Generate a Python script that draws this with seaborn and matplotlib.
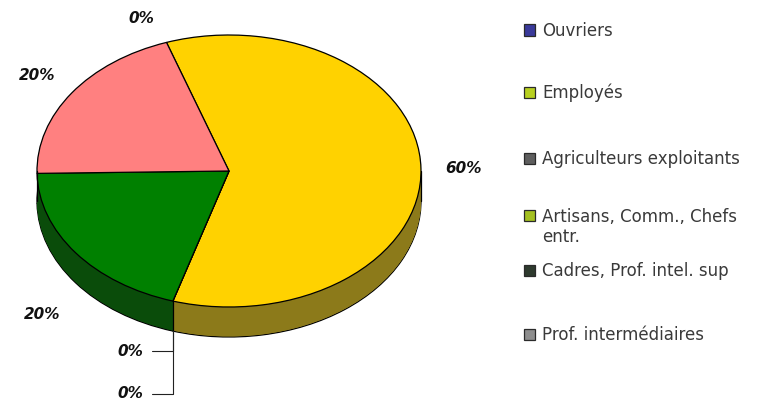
import numpy as np
import matplotlib
matplotlib.use("Agg")
import matplotlib.pyplot as plt
from matplotlib.patches import Rectangle
import seaborn as sns

# Répartition par catégorie socio-professionnelle (%)
categories = ["Ouvriers", "Employés", "Agriculteurs exploitants",
              "Artisans, Comm., Chefs\nentr.", "Cadres, Prof. intel. sup",
              "Prof. intermédiaires"]
values = [0, 60, 0, 0, 20, 20]

sns.set_theme(style="white")
plt.rcParams["font.family"] = ["DejaVu Sans"]

top_colors = sns.color_palette(["#3a3aa0", "#ffd200", "#6b6b6b", "#a8c81e", "#008000", "#ff8080"])
side_colors = sns.color_palette(["#202060", "#8c7a1a", "#404040", "#6a7e12", "#0a4c0a", "#a05050"])
legend_colors = ["#3a3a9a", "#b8d020", "#5e5e5e", "#a4c020", "#2e3a2e", "#8e8e8e"]

W, H = 776, 408
fig = plt.figure(figsize=(W / 100, H / 100), dpi=100)
fig.patch.set_facecolor("white")

# pie axes: ellipse of 192 x 136 px per unit, centre at (229, 171) px
AW = 480
cx, cy, sx, sy = 229, 171, 192, 136
ax = fig.add_axes([0, 0, AW / W, 1])
depth = 30 / sy
start = 109

# side wall: stacked darker pies
n_layers = 60
for k in range(n_layers, 0, -1):
    off = depth * k / n_layers
    ec = "black" if k == n_layers else "none"
    ax.pie(values, colors=side_colors, startangle=start, counterclock=False,
           center=(0, -off), radius=1,
           wedgeprops=dict(linewidth=0.9 if k == n_layers else 0, edgecolor=ec))

# top face
ax.pie(values, colors=top_colors, startangle=start, counterclock=False,
       center=(0, 0), radius=1,
       wedgeprops=dict(linewidth=0.9, edgecolor="black"))

# slice angles (clockwise from startangle)
vals = np.array(values, dtype=float)
cum = np.concatenate([[0], np.cumsum(vals)]) / vals.sum() * 360
theta_start = np.deg2rad(start - cum[:-1])
theta_end = np.deg2rad(start - cum[1:])
theta_mid = (theta_start + theta_end) / 2

# vertical edges of the side wall
for th in [np.pi, 0.0, theta_end[1]]:
    x0, y0 = np.cos(th), np.sin(th)
    ax.plot([x0, x0], [y0, y0 - depth], color="black", lw=0.9)

# percentage labels
lab_kw = dict(fontsize=11, fontweight="bold", fontstyle="italic",
              color="#111111", ha="center", va="center")
bottom_zero = 0
for i, v in enumerate(values):
    th = theta_mid[i]
    txt = f"{v:.0f}%"
    if v == 0 and np.sin(th) < 0:
        px, py = np.cos(th), np.sin(th) - depth
        drop = [0.15, 0.46][bottom_zero]
        tx, ty = px - 0.22, py - drop
        ax.text(tx, ty, txt, **lab_kw)
        ax.plot([tx + 0.11, px, px], [ty, ty, py], color="#222222", lw=0.8)
        bottom_zero += 1
        continue
    r = 1.22
    x, y = r * np.cos(th), r * np.sin(th)
    if np.sin(th) < 0:
        y -= depth + 0.1
    elif np.sin(th) > 0.9:
        x -= 0.06
        y -= 0.03
    ax.text(x, y, txt, **lab_kw)

ax.set_aspect("auto")
ax.set_xlim(-cx / sx, (AW - cx) / sx)
ax.set_ylim(-(H - cy) / sy, cy / sy)
ax.axis("off")

# legend
rows = [30, 92, 158, 216, 270, 334]
for lab, col, yc in zip(categories, legend_colors, rows):
    fig.add_artist(Rectangle((524 / W, 1 - (yc + 5.5) / H), 11 / W, 11 / H,
                             transform=fig.transFigure, facecolor=col,
                             edgecolor="#2a2a2a", linewidth=0.9))
    fig.text(542 / W, 1 - (yc - 8) / H, lab, fontsize=12, color="#3a3a3a",
             ha="left", va="top", linespacing=1.15)

fig.savefig("out.png", dpi=100, facecolor="white")
